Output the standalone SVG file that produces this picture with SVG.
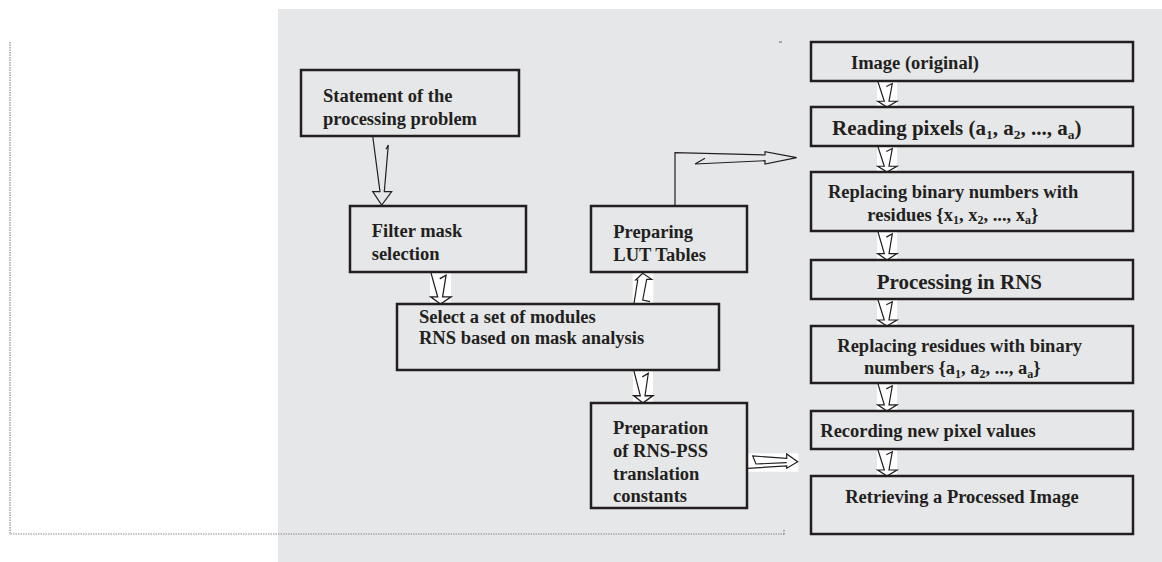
<svg xmlns="http://www.w3.org/2000/svg" xmlns:xlink="http://www.w3.org/1999/xlink" width="1162" height="562" viewBox="0 0 1162 562">
<style>
.box{fill:none;stroke:#231f20;stroke-width:2.5}
.t{font-family:"Liberation Serif","Times New Roman",serif;font-weight:bold;font-size:18.5px;fill:#231f20}
.big{font-size:21px}
.sub{font-size:12px}
.bsub{font-size:13.5px}
.ar{fill:none;stroke:#231f20;stroke-width:1.2;stroke-linejoin:miter}
.dot{fill:none;stroke:#8a8a8a;stroke-width:1.2;stroke-dasharray:1.5 1}
</style>
<defs>
<g id="dn"><rect x="0" y="0" width="20" height="27" fill="#fff"/><path class="ar" d="M0.7,0 L7.3,21 L0.7,21 L10,27 L20,21 L12,21 L15.3,2.7 L9.3,5.7"/></g>
</defs>
<rect x="278" y="9" width="884" height="553" fill="#e6e7e8"/>
<g id="frame">
<path class="dot" d="M10,42 V534 H784"/>
<path d="M779,42 h3 M784,530 v1.5 M784,533 v1.5" stroke="#666" stroke-width="1" fill="none"/>
</g>
<g id="connectors">
<path class="ar" d="M372.7,136 L380,191.7 L372.7,191.7 L381.7,205 L391.7,191.7 L384.3,191.7 L388.3,145 L386,149.3"/>
<use xlink:href="#dn" transform="translate(430,272) scale(1.05,1.185)"/>
<use xlink:href="#dn" transform="translate(633,370) scale(1,1.222)"/>
<rect x="632.7" y="272.7" width="20.6" height="31" fill="#fff"/>
<path class="ar" d="M634,303.3 L637.7,280 L635.7,280 L642.7,273.3 L651.7,279.3 L646.7,279.3 L642.7,300 L650,301.7"/>
<path class="ar" d="M675,206 L675,152.7 L765,155 L765,151.7 L796.7,157.7 L765,164 L765,160.7 L695,164 L705,158.3"/>
<rect x="747.5" y="453.3" width="50.8" height="18.4" fill="#fff"/>
<path class="ar" d="M748,468.3 L786.7,466 L786.7,468.3 L797.7,461.7 L786.7,454 L786.7,458.3 L752.7,456 L756,464 L786.7,462.7"/>
<use xlink:href="#dn" transform="translate(877,81) scale(1,0.963)"/>
<use xlink:href="#dn" transform="translate(877,146) scale(1,0.963)"/>
<use xlink:href="#dn" transform="translate(877,231) scale(1,1.074)"/>
<use xlink:href="#dn" transform="translate(877,299) scale(1,1)"/>
<use xlink:href="#dn" transform="translate(877,383) scale(1,1.037)"/>
<use xlink:href="#dn" transform="translate(877,449) scale(1,1)"/>
</g>
<g id="statement">
<rect class="box" x="301" y="70" width="218" height="66"/>
<text class="t" x="323" y="102">Statement of the</text>
<text class="t" x="323" y="125">processing problem</text>
</g>
<g id="filter">
<rect class="box" x="350" y="206" width="176" height="66"/>
<text class="t" x="371.7" y="236.7">Filter mask</text>
<text class="t" x="371.7" y="260">selection</text>
</g>
<g id="select">
<rect class="box" x="397" y="304" width="322" height="66"/>
<text class="t" x="419" y="323.3">Select a set of modules</text>
<text class="t" x="419" y="344">RNS based on mask analysis</text>
</g>
<g id="lut">
<rect class="box" x="591" y="206" width="156" height="66"/>
<text class="t" x="613.3" y="238.3">Preparing</text>
<text class="t" x="613.3" y="260.7">LUT Tables</text>
</g>
<g id="prep">
<rect class="box" x="591" y="403" width="156" height="105"/>
<text class="t" x="613" y="434.3">Preparation</text>
<text class="t" x="613" y="456.7">of RNS-PSS</text>
<text class="t" x="613" y="480">translation</text>
<text class="t" x="613" y="502.3">constants</text>
</g>
<g id="image">
<rect class="box" x="811" y="42" width="322" height="39"/>
<text class="t" x="851" y="69">Image (original)</text>
</g>
<g id="reading">
<rect class="box" x="811" y="107" width="322" height="39"/>
<text class="t big" x="832" y="135">Reading pixels (a<tspan class="bsub" dy="4">1</tspan><tspan dy="-4">, a</tspan><tspan class="bsub" dy="4">2</tspan><tspan dy="-4">, ..., a</tspan><tspan class="bsub" dy="4">a</tspan><tspan dy="-4">)</tspan></text>
</g>
<g id="replace1">
<rect class="box" x="811" y="172" width="322" height="59"/>
<text class="t" x="828" y="198">Replacing binary numbers with</text>
<text class="t" x="867.3" y="220.7">residues {x<tspan class="sub" dy="3.5">1</tspan><tspan dy="-3.5">, x</tspan><tspan class="sub" dy="3.5">2</tspan><tspan dy="-3.5">, ..., x</tspan><tspan class="sub" dy="3.5">a</tspan><tspan dy="-3.5">}</tspan></text>
</g>
<g id="processing">
<rect class="box" x="811" y="260" width="322" height="39"/>
<text class="t big" x="876.7" y="289.3">Processing in RNS</text>
</g>
<g id="replace2">
<rect class="box" x="811" y="326" width="322" height="57"/>
<text class="t" x="837.3" y="351.7">Replacing residues with binary</text>
<text class="t" x="864" y="374">numbers {a<tspan class="sub" dy="3.5">1</tspan><tspan dy="-3.5">, a</tspan><tspan class="sub" dy="3.5">2</tspan><tspan dy="-3.5">, ..., a</tspan><tspan class="sub" dy="3.5">a</tspan><tspan dy="-3.5">}</tspan></text>
</g>
<g id="recording">
<rect class="box" x="811" y="411" width="322" height="38"/>
<text class="t" x="820.3" y="437.3">Recording new pixel values</text>
</g>
<g id="retrieving">
<rect class="box" x="811" y="476" width="322" height="58"/>
<text class="t" x="845.2" y="503.3">Retrieving a Processed Image</text>
</g>
</svg>
